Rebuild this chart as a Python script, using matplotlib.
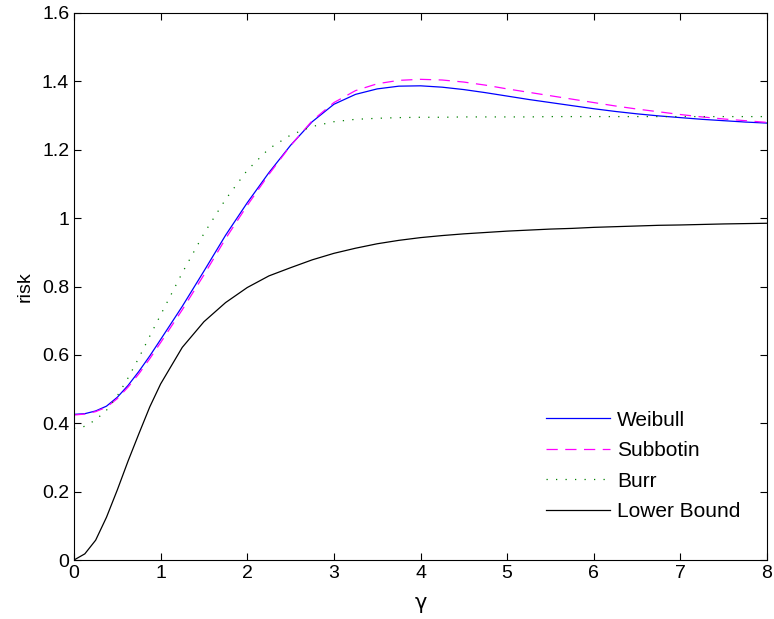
import matplotlib
matplotlib.use('Agg')
import matplotlib.pyplot as plt
from matplotlib.ticker import FormatStrFormatter

plt.rcParams['font.family'] = ['Liberation Sans', 'DejaVu Sans']

gamma = [0, 0.125, 0.25, 0.375, 0.5, 0.625, 0.75, 0.875, 1.0, 1.25, 1.5, 1.75, 2.0,
         2.25, 2.5, 2.75, 3.0, 3.25, 3.5, 3.75, 4.0, 4.25, 4.5, 4.75, 5.0, 5.25, 5.5,
         5.75, 6.0, 6.25, 6.5, 6.75, 7.0, 7.25, 7.5, 7.75, 8.0]

weibull = [0.426, 0.428, 0.436, 0.450, 0.476, 0.511, 0.552, 0.597, 0.645, 0.742, 0.845,
           0.95, 1.045, 1.133, 1.213, 1.282, 1.333, 1.362, 1.378, 1.386, 1.387, 1.383,
           1.376, 1.367, 1.357, 1.347, 1.338, 1.329, 1.32, 1.312, 1.305, 1.299, 1.294,
           1.289, 1.285, 1.281, 1.278]

subbotin = [0.424, 0.427, 0.434, 0.447, 0.472, 0.506, 0.545, 0.589, 0.636, 0.732, 0.834,
            0.94, 1.037, 1.128, 1.212, 1.285, 1.338, 1.373, 1.393, 1.403, 1.406, 1.404,
            1.398, 1.389, 1.378, 1.368, 1.358, 1.348, 1.338, 1.328, 1.319, 1.311, 1.303,
            1.296, 1.29, 1.285, 1.28]

burr = [0.385, 0.391, 0.41, 0.438, 0.48, 0.533, 0.592, 0.655, 0.717, 0.84, 0.955, 1.055,
        1.14, 1.203, 1.243, 1.268, 1.282, 1.289, 1.292, 1.294, 1.295, 1.295, 1.296,
        1.296, 1.296, 1.296, 1.297, 1.297, 1.297, 1.297, 1.297, 1.297, 1.297, 1.297,
        1.297, 1.297, 1.297]

lower_bound = [0, 0.018, 0.058, 0.125, 0.205, 0.29, 0.37, 0.448, 0.515, 0.622, 0.697,
               0.753, 0.797, 0.831, 0.855, 0.878, 0.897, 0.912, 0.925, 0.935, 0.943,
               0.949, 0.954, 0.958, 0.962, 0.965, 0.968, 0.970, 0.973, 0.975, 0.977,
               0.979, 0.980, 0.9815, 0.983, 0.984, 0.985]

fig = plt.figure(figsize=(7.74, 6.19), dpi=100)
ax = fig.add_axes([0.0956, 0.0953, 0.8954, 0.8837])

ax.plot(gamma, weibull, color='#0000ff', lw=0.9, label='Weibull')
ax.plot(gamma, subbotin, color='#ff00ff', lw=0.9, linestyle=(0, (9, 6)), label='Subbotin')
ax.plot(gamma, burr, color='#008000', lw=0.9, linestyle=(0, (1, 6.6)), label='Burr')
ax.plot(gamma, lower_bound, color='black', lw=0.9, label='Lower Bound')

ax.set_xlim(0, 8)
ax.set_ylim(0, 1.6)
ax.set_xticks(range(0, 9))
ax.set_yticks([0, 0.2, 0.4, 0.6, 0.8, 1.0, 1.2, 1.4, 1.6])
ax.yaxis.set_major_formatter(FormatStrFormatter('%g'))
ax.tick_params(direction='in', top=True, right=True, length=5, labelsize=14, width=0.8)
for s in ax.spines.values():
    s.set_linewidth(0.8)

ax.set_xlabel('γ', fontsize=15, labelpad=8, family=['DejaVu Sans'])
ax.set_ylabel('risk', fontsize=14, labelpad=6)

ax.legend(loc='upper left', bbox_to_anchor=(0.681, 0.273), frameon=False, fontsize=15,
          handlelength=3.08, handletextpad=0.33, labelspacing=0.55, borderpad=0,
          borderaxespad=0)

fig.savefig('out.png', dpi=100)
